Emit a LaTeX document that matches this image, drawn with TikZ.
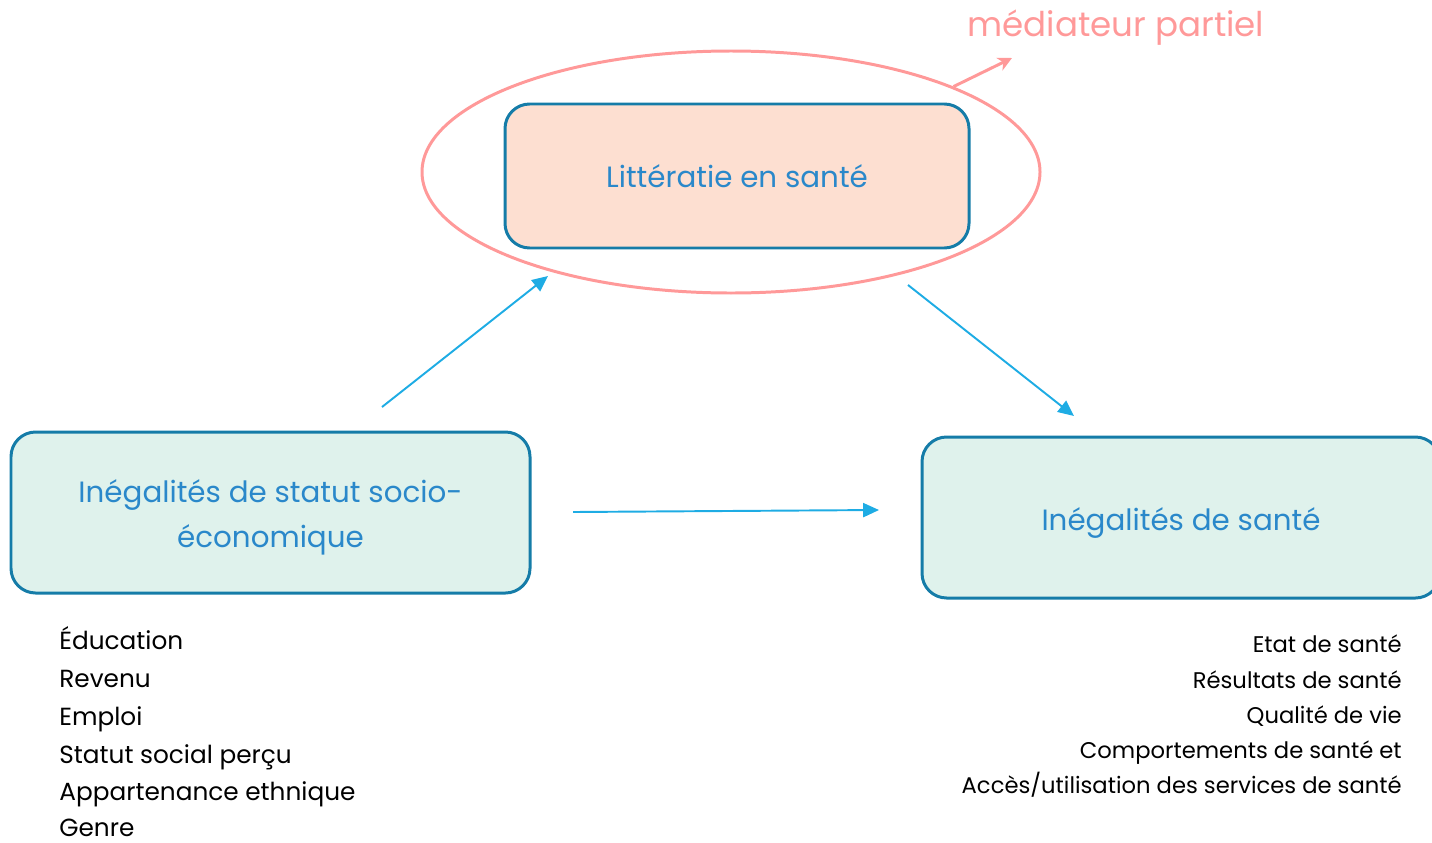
\documentclass[tikz,border=0pt]{standalone}
\usepackage{fontspec}
\setmainfont{Poppins}
\usetikzlibrary{shapes.geometric,arrows.meta}

\definecolor{boxline}{RGB}{21,124,168}
\definecolor{boxtext}{RGB}{42,136,202}
\definecolor{peach}{RGB}{253,223,209}
\definecolor{mint}{RGB}{223,242,236}
\definecolor{rose}{RGB}{255,153,153}
\definecolor{arrowblue}{RGB}{30,172,228}

\tikzset{
  box/.style={draw=boxline, line width=1.7pt, rounded corners=14pt, align=center,
    text=boxtext, font=\fontsize{16.7}{26}\selectfont, inner sep=0pt, text depth=0pt},
  flow/.style={draw=arrowblue, line width=1.1pt, -{Triangle[length=9pt,width=8pt]}},
  leftitem/.style={font=\fontsize{14.1}{17}\selectfont, text=black, inner sep=0pt, anchor=base west},
  rightitem/.style={font=\fontsize{12.9}{15}\selectfont, text=black, inner sep=0pt, anchor=base east},
}

\begin{document}
\begin{tikzpicture}[x=0.02cm, y=-0.02cm]
\useasboundingbox (0,0) rectangle (1432,842);

% boxes
\node[box, fill=peach, minimum width=464*0.02cm, minimum height=144*0.02cm, text height=13.6pt] (lit) at (737,176) {Littératie en santé};
\node[box, fill=mint, minimum width=519*0.02cm, minimum height=161*0.02cm, text height=40.2pt] (ses) at (270.5,512.5) {Inégalités de statut socio-\\économique};
\node[box, fill=mint, minimum width=518*0.02cm, minimum height=161*0.02cm, text height=15.3pt] (sante) at (1181,517.5) {Inégalités de santé};

% partial mediator
\node[ellipse, draw=rose, line width=1.7pt, minimum width=618*0.02cm, minimum height=242*0.02cm, inner sep=0pt] (med) at (731,172) {};
\coordinate (medtip) at (1012,58);
\draw[rose, line width=1.7pt, -{Stealth[length=8pt,width=8pt,inset=2.5pt]}] (med.21.6) -- (medtip);
\node[anchor=base west, text=rose, inner sep=0pt, font=\fontsize{19.4}{22}\selectfont] (medlabel) at (967,36) {médiateur partiel};

% arrows
\coordinate (a1) at (382,407);
\coordinate (b1) at (548,276);
\coordinate (a2) at (908,285);
\coordinate (b2) at (1074,416);
\coordinate (a3) at (573,512);
\coordinate (b3) at (879,510);
\draw[flow] (a1) -- (b1);
\draw[flow] (a2) -- (b2);
\draw[flow] (a3) -- (b3);

% indicators
\node[leftitem] (l1) at (59,649) {Éducation};
\node[leftitem] (l2) at (59,687) {Revenu};
\node[leftitem] (l3) at (59,725) {Emploi};
\node[leftitem] (l4) at (59,763) {Statut social perçu};
\node[leftitem] (l5) at (59,800) {Appartenance ethnique};
\node[leftitem] (l6) at (59,836) {Genre};

\node[rightitem] (r1) at (1402,652) {Etat de santé};
\node[rightitem] (r2) at (1402,688) {Résultats de santé};
\node[rightitem] (r3) at (1402,723) {Qualité de vie};
\node[rightitem] (r4) at (1402,758) {Comportements de santé et};
\node[rightitem] (r5) at (1402,793) {Accès/utilisation des services de santé};
\end{tikzpicture}
\end{document}
